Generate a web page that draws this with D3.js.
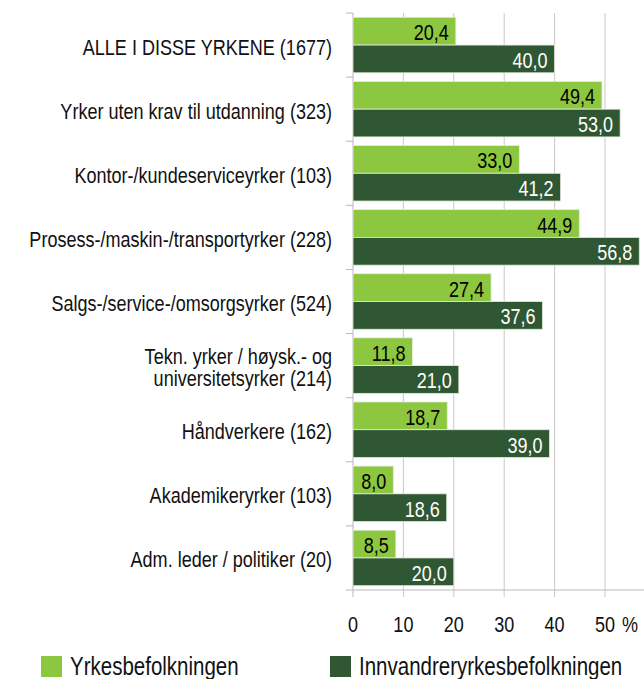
<!DOCTYPE html>
<html>
<head>
<meta charset="utf-8">
<style>
  body { margin: 0; background: #fff; }
  svg text { font-family: "Liberation Sans", Arial, sans-serif; }
</style>
</head>
<body>
<svg width="644" height="679"></svg>
<script src="https://cdnjs.cloudflare.com/ajax/libs/d3/7.8.5/d3.min.js"></script>
<script>
// data
var categories = [
  ["ALLE I DISSE YRKENE (1677)"],
  ["Yrker uten krav til utdanning (323)"],
  ["Kontor-/kundeserviceyrker (103)"],
  ["Prosess-/maskin-/transportyrker (228)"],
  ["Salgs-/service-/omsorgsyrker (524)"],
  ["Tekn. yrker / høysk.- og", "universitetsyrker (214)"],
  ["Håndverkere (162)"],
  ["Akademikeryrker (103)"],
  ["Adm. leder / politiker (20)"]
];
var yrkes = [20.4, 49.4, 33.0, 44.9, 27.4, 11.8, 18.7, 8.0, 8.5];
var innv = [40.0, 53.0, 41.2, 56.8, 37.6, 21.0, 39.0, 18.6, 20.0];
var seriesNames = ["Yrkesbefolkningen", "Innvandreryrkesbefolkningen"];
var xTicks = [0, 10, 20, 30, 40, 50];

var colors = ["#8dc63f", "#2f5733"];
var labelColors = ["#000", "#fff"];
var narrow = 0.82; // squeeze Liberation Sans to look like Arial Narrow

var svg = d3.select("svg"),
    margin = {top: 13, right: 0, bottom: 89, left: 353},
    width = 644 - margin.left - margin.right,
    height = 679 - margin.top - margin.bottom,
    g = svg.append("g").attr("transform", "translate(" + margin.left + "," + margin.top + ")");

var x = d3.scaleLinear().domain([0, 50]).range([0, 252]);
var y = d3.scaleBand().domain(d3.range(categories.length)).range([0, height]);
var inner = d3.scaleBand().domain([0, 1]).range([4.3, y.bandwidth() - 4.3]);

function place(px, py) {
  return "translate(" + px + "," + py + ") scale(" + narrow + ",1)";
}

// gridlines
g.selectAll(".grid")
  .data(xTicks.slice(1))
  .enter().append("line")
  .attr("x1", function(d) { return x(d); })
  .attr("x2", function(d) { return x(d); })
  .attr("y1", 0)
  .attr("y2", height + 7)
  .attr("stroke", "#c8c8c8");

// y axis line and ticks
g.append("line")
  .attr("x1", 0).attr("x2", 0).attr("y1", 0).attr("y2", height + 7)
  .attr("stroke", "#b8b8b8");
g.selectAll(".ytick")
  .data(d3.range(categories.length))
  .enter().append("line")
  .attr("x1", -7).attr("x2", 0)
  .attr("y1", function(d) { return y(d); })
  .attr("y2", function(d) { return y(d); })
  .attr("stroke", "#b8b8b8");

// x axis
g.append("line")
  .attr("x1", -7).attr("x2", width)
  .attr("y1", height).attr("y2", height)
  .attr("stroke", "#b8b8b8");

var rows = [yrkes, innv];
var group = g.selectAll(".cat")
  .data(d3.range(categories.length))
  .enter().append("g")
  .attr("class", "cat")
  .attr("transform", function(i) { return "translate(0," + y(i) + ")"; });

rows.forEach(function(vals, s) {
  group.append("rect")
    .attr("x", 0)
    .attr("y", inner(s))
    .attr("width", function(i) { return x(vals[i]); })
    .attr("height", inner.bandwidth())
    .attr("fill", colors[s])
    .attr("stroke", "#e6ece0")
    .attr("stroke-width", 0.8);

  group.append("text")
    .attr("transform", function(i) { return place(x(vals[i]) - 7, inner(s) + inner.bandwidth() / 2 + 9); })
    .attr("text-anchor", "end")
    .attr("fill", labelColors[s])
    .style("font-size", "22px")
    .text(function(i) { return d3.format(".1f")(vals[i]).replace(".", ","); });
});

// category labels
var catLabel = group.append("text")
  .attr("text-anchor", "end")
  .attr("fill", "#111")
  .style("font-size", "22px")
  .attr("transform", function(i) {
    return place(-21, y.bandwidth() / 2 + 9.5 - (categories[i].length - 1) * 11);
  });
catLabel.selectAll("tspan")
  .data(function(i) { return categories[i]; })
  .enter().append("tspan")
  .attr("x", 0)
  .attr("dy", function(d, k) { return k === 0 ? 0 : 22; })
  .text(function(d) { return d; });

// x tick labels
g.selectAll(".xlab")
  .data(xTicks)
  .enter().append("text")
  .attr("transform", function(d) { return place(x(d), height + 42); })
  .attr("text-anchor", "middle")
  .attr("fill", "#111")
  .style("font-size", "22px")
  .text(function(d) { return d; });
g.append("text")
  .attr("transform", place(x(50) + 17, height + 42))
  .attr("fill", "#111")
  .style("font-size", "22px")
  .text("%");

// legend
var legX = [41, 330];
var legend = svg.selectAll(".legend")
  .data(seriesNames)
  .enter().append("g")
  .attr("transform", function(d, i) { return "translate(" + legX[i] + ",656)"; });
legend.append("rect")
  .attr("width", 21).attr("height", 21)
  .attr("fill", function(d, i) { return colors[i]; });
legend.append("text")
  .attr("transform", place(29, 19))
  .attr("fill", "#111")
  .style("font-size", "25px")
  .text(function(d) { return d; });
</script>
</body>
</html>
